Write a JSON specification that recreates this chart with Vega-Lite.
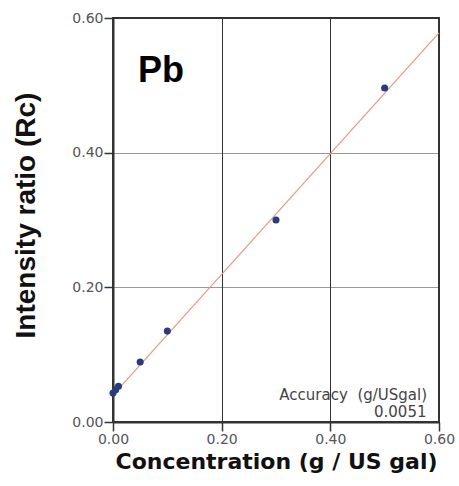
{
  "$schema": "https://vega.github.io/schema/vega-lite/v6.json",
  "autosize": "none",
  "width": 326,
  "height": 404,
  "padding": {"left": 113, "top": 18, "right": 20, "bottom": 64},
  "background": "white",
  "config": {
    "view": {"stroke": "#333333", "strokeWidth": 2},
    "axis": {
      "labelFont": "DejaVu Sans",
      "labelFontSize": 14,
      "labelColor": "#555555",
      "labelFlush": false,
      "labelOverlap": false,
      "titleFontWeight": "bold",
      "titleColor": "#111111",
      "domainColor": "#333333",
      "domainWidth": 2,
      "tickColor": "#333333",
      "tickSize": 9,
      "tickWidth": 1.5,
      "gridColor": "#333333",
      "gridOpacity": 1,
      "gridWidth": 1
    }
  },
  "datasets": {
    "pts": [
      {"x": 0.0, "y": 0.043},
      {"x": 0.005, "y": 0.048},
      {"x": 0.01, "y": 0.053},
      {"x": 0.05, "y": 0.089},
      {"x": 0.1, "y": 0.135},
      {"x": 0.3, "y": 0.300},
      {"x": 0.5, "y": 0.496}
    ],
    "fit": [
      {"x": 0.0, "y": 0.040},
      {"x": 0.6, "y": 0.578}
    ],
    "labels": [
      {"x": 0.046, "y": 0.505, "t": "Pb", "k": "big"},
      {"x": 0.578, "y": 0.033, "t": "Accuracy\u00a0\u00a0(g/USgal)", "k": "small"},
      {"x": 0.577, "y": 0.0075, "t": "0.0051", "k": "small"}
    ]
  },
  "layer": [
    {
      "data": {"name": "fit"},
      "mark": {"type": "line", "color": "#e99882", "strokeWidth": 1.2},
      "encoding": {
        "x": {
          "field": "x", "type": "quantitative",
          "scale": {"domain": [0, 0.6], "nice": false},
          "axis": {"values": [0, 0.2, 0.4, 0.6], "format": ".2f", "title": "Concentration (g / US gal)", "titleFont": "DejaVu Sans", "titleFontSize": 22, "titlePadding": 5, "labelPadding": 1}
        },
        "y": {
          "field": "y", "type": "quantitative",
          "scale": {"domain": [0, 0.6], "nice": false},
          "axis": {"values": [0, 0.2, 0.4, 0.6], "format": ".2f", "title": "Intensity ratio (Rᴄ)", "titleFont": "Liberation Sans", "titleFontSize": 28, "titlePadding": 31, "titleY": 197, "labelPadding": 1, "gridDash": [1, 1]}
        }
      }
    },
    {
      "data": {"name": "pts"},
      "mark": {"type": "point", "filled": true, "color": "#2a3a7e", "size": 50, "opacity": 1},
      "encoding": {
        "x": {"field": "x", "type": "quantitative"},
        "y": {"field": "y", "type": "quantitative"}
      }
    },
    {
      "data": {"name": "labels"},
      "transform": [{"filter": "datum.k === 'big'"}],
      "mark": {"type": "text", "font": "Liberation Sans", "fontWeight": "bold", "fontSize": 36, "align": "left", "baseline": "alphabetic", "color": "#000000"},
      "encoding": {
        "x": {"field": "x", "type": "quantitative"},
        "y": {"field": "y", "type": "quantitative"},
        "text": {"field": "t"}
      }
    },
    {
      "data": {"name": "labels"},
      "transform": [{"filter": "datum.k === 'small'"}],
      "mark": {"type": "text", "font": "DejaVu Sans", "fontSize": 15, "align": "right", "baseline": "alphabetic", "color": "#444444"},
      "encoding": {
        "x": {"field": "x", "type": "quantitative"},
        "y": {"field": "y", "type": "quantitative"},
        "text": {"field": "t"}
      }
    }
  ]
}
